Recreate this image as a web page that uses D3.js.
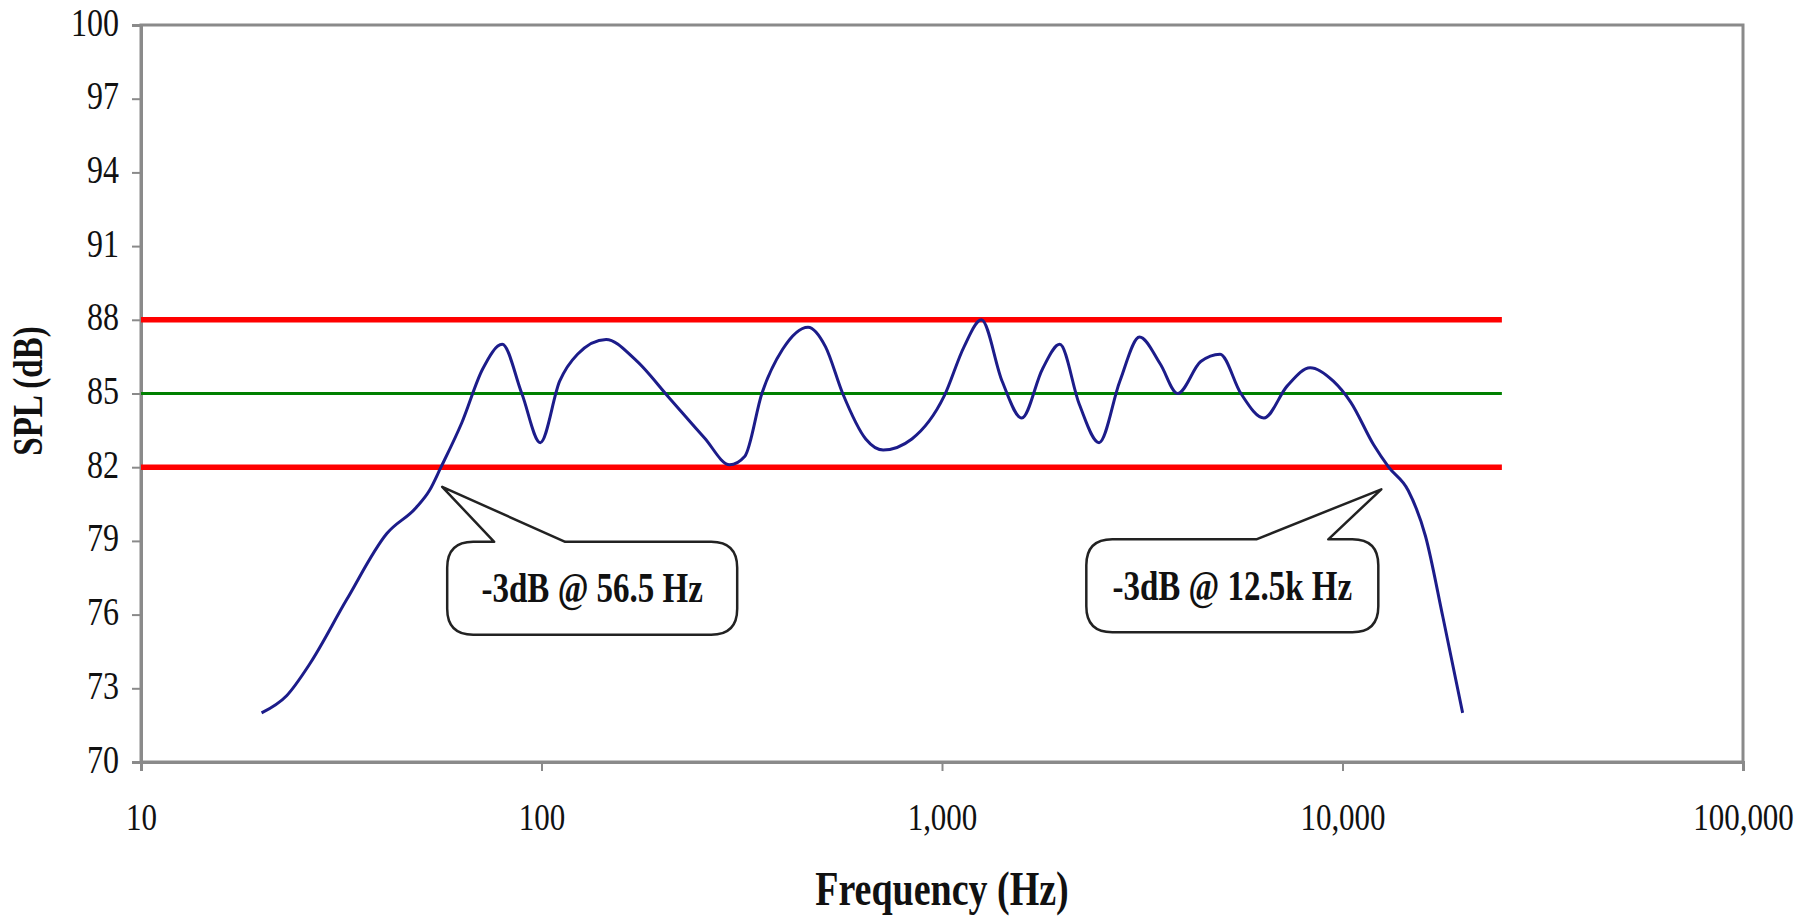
<!DOCTYPE html>
<html>
<head>
<meta charset="utf-8" />
<title>SPL vs Frequency</title>
<script src="https://d3js.org/d3.v7.min.js"></script>
<style>
    body { margin: 0; background: #fff; }
    svg { display: block; }
    text { font-family: "Liberation Serif", "Times New Roman", serif; fill: #111; }
</style>
</head>
<body>
<svg width="1810" height="920"></svg>
<script>
var freq = [20, 23.1, 26.4, 32.6, 41.1, 48.6, 52.5, 56.1, 63.2, 71.3, 79.8, 89.3, 99.3, 111, 123, 145, 171, 209, 255, 295, 322, 355, 400, 463, 512, 565, 645, 713, 841, 1013, 1135, 1254, 1413, 1582, 1782, 1968, 2203, 2467, 2780, 3113, 3508, 3875, 4426, 4947, 5576, 6365, 7271, 8305, 9488, 10480, 11970, 13040, 14590, 16110, 17810, 19950];
var spl = [72.0, 72.7, 74.0, 76.6, 79.3, 80.35, 81.05, 82.0, 83.8, 86.0, 87.0, 85.0, 83.0, 85.5, 86.6, 87.2, 86.4, 84.8, 83.2, 82.1, 82.45, 85.0, 86.8, 87.7, 86.9, 85.0, 83.15, 82.7, 83.15, 84.9, 86.9, 88.0, 85.5, 84.0, 86.0, 87.0, 84.55, 83.0, 85.5, 87.3, 86.2, 85.0, 86.3, 86.6, 85.0, 84.0, 85.3, 86.05, 85.5, 84.65, 82.9, 82.0, 81.05, 79.2, 75.9, 72.0];

var yTicks = [70, 73, 76, 79, 82, 85, 88, 91, 94, 97, 100];
var xTicks = [10, 100, 1000, 10000, 100000];

var limitLevels = [88, 82];
var targetLevel = 85;
var refRange = [10, 25000];

var calloutLabels = ["-3dB @ 56.5 Hz", "-3dB @ 12.5k Hz"];
var calloutFreq = [56.5, 12500];
var calloutLevel = [81.2, 81.1];

var svg = d3.select("svg"),
    width = +svg.attr("width"),
    height = +svg.attr("height");

var margin = { top: 25, right: 67, bottom: 158, left: 141 };
var innerW = width - margin.left - margin.right,
    innerH = height - margin.top - margin.bottom;

var x = d3.scaleLog().domain([10, 100000]).range([margin.left, margin.left + innerW]);
var y = d3.scaleLinear().domain([70, 100]).range([margin.top + innerH, margin.top]);

var stretch = 1.25; // the source text is tall and narrow
var axisGrey = "#8a8a8a";

// plot frame (top + right)
svg.append("rect")
    .attr("x", margin.left)
    .attr("y", margin.top)
    .attr("width", innerW)
    .attr("height", innerH)
    .attr("fill", "none")
    .attr("stroke", axisGrey)
    .attr("stroke-width", 3);

// y axis
var yAxis = svg.append("g")
    .attr("transform", "translate(" + margin.left + ",0)")
    .call(d3.axisLeft(y).tickValues(yTicks).tickSize(9).tickFormat(d3.format("d")));
yAxis.select(".domain").attr("stroke", axisGrey).attr("stroke-width", 3);
yAxis.selectAll(".tick line").attr("stroke", axisGrey).attr("stroke-width", 2);
yAxis.selectAll(".tick text")
    .attr("x", null).attr("dy", null)
    .attr("transform", "translate(-22,10) scale(1," + stretch + ")")
    .style("font-size", "32px")
    .style("font-family", "Liberation Serif, serif");

// x axis
var xAxis = svg.append("g")
    .attr("transform", "translate(0," + (margin.top + innerH) + ")")
    .call(d3.axisBottom(x).tickValues(xTicks).tickSize(9).tickFormat(d3.format(",")));
xAxis.select(".domain").attr("stroke", axisGrey).attr("stroke-width", 3);
xAxis.selectAll(".tick line").attr("stroke", axisGrey).attr("stroke-width", 2);
xAxis.selectAll(".tick text")
    .attr("y", null).attr("dy", null)
    .attr("transform", "translate(0,68) scale(1," + stretch + ")")
    .style("font-size", "31px")
    .style("font-family", "Liberation Serif, serif");

// limit and target lines
svg.selectAll(".limit")
    .data(limitLevels)
    .enter()
    .append("line")
    .attr("class", "limit")
    .attr("x1", x(refRange[0]))
    .attr("x2", x(refRange[1]))
    .attr("y1", function (d) { return y(d); })
    .attr("y2", function (d) { return y(d); })
    .attr("stroke", "#ff0000")
    .attr("stroke-width", 5.5);

svg.append("line")
    .attr("x1", x(refRange[0]))
    .attr("x2", x(refRange[1]))
    .attr("y1", y(targetLevel))
    .attr("y2", y(targetLevel))
    .attr("stroke", "#008000")
    .attr("stroke-width", 3);

// response curve
var pts = freq.map(function (f, i) { return { f: f, db: spl[i] }; });
var line = d3.line()
    .x(function (d) { return x(d.f); })
    .y(function (d) { return y(d.db); })
    .curve(d3.curveMonotoneX);

svg.append("path")
    .datum(pts)
    .attr("d", line)
    .attr("fill", "none")
    .attr("stroke", "#1c1c8a")
    .attr("stroke-width", 3);

// callouts: box placed relative to the tip
var calloutLayout = [
    { dx: 5, dy: 55, w: 290, h: 93, wedge: [52, 123] },
    { dx: -295, dy: 50, w: 292, h: 93, wedge: [-125, -53] }
];

function calloutPath(tx, ty, L) {
    var bx = tx + L.dx, by = ty + L.dy, bw = L.w, bh = L.h, r = 26;
    var w0 = tx + L.wedge[0], w1 = tx + L.wedge[1];
    return "M" + (bx + r) + "," + by +
        "L" + w0 + "," + by +
        "L" + tx + "," + ty +
        "L" + w1 + "," + by +
        "L" + (bx + bw - r) + "," + by +
        "Q" + (bx + bw) + "," + by + " " + (bx + bw) + "," + (by + r) +
        "L" + (bx + bw) + "," + (by + bh - r) +
        "Q" + (bx + bw) + "," + (by + bh) + " " + (bx + bw - r) + "," + (by + bh) +
        "L" + (bx + r) + "," + (by + bh) +
        "Q" + bx + "," + (by + bh) + " " + bx + "," + (by + bh - r) +
        "L" + bx + "," + (by + r) +
        "Q" + bx + "," + by + " " + (bx + r) + "," + by + "Z";
}

calloutLabels.forEach(function (label, i) {
    var tx = x(calloutFreq[i]), ty = y(calloutLevel[i]);
    var L = calloutLayout[i];
    svg.append("path")
        .attr("d", calloutPath(tx, ty, L))
        .attr("fill", "#fff")
        .attr("stroke", "#222")
        .attr("stroke-width", 2.5)
        .attr("stroke-linejoin", "round");
    svg.append("text")
        .attr("transform", "translate(" + (tx + L.dx + L.w / 2) + "," + (ty + L.dy + L.h / 2 + 14) + ") scale(1," + stretch + ")")
        .attr("text-anchor", "middle")
        .style("font-size", "33px")
        .style("font-weight", "bold")
        .text(label);
});

// axis titles
svg.append("text")
    .attr("transform", "translate(" + (margin.left + innerW * 0.5) + ",905) scale(1," + stretch + ")")
    .attr("text-anchor", "middle")
    .style("font-size", "38px")
    .style("font-weight", "bold")
    .text("Frequency (Hz)");

svg.append("text")
    .attr("transform", "translate(42,391) rotate(-90) scale(1," + stretch + ")")
    .attr("text-anchor", "middle")
    .style("font-size", "33px")
    .style("font-weight", "bold")
    .text("SPL (dB)");
</script>
</body>
</html>
